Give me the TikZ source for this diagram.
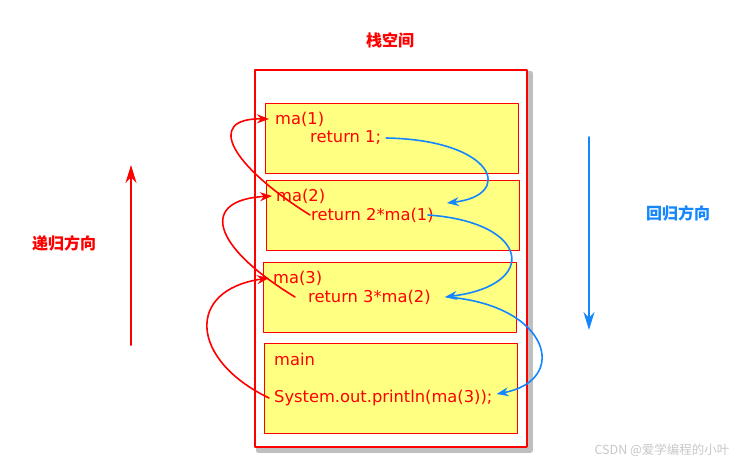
\documentclass[tikz,border=0pt]{standalone}
\usepackage{fontspec}
\setmainfont{DejaVu Sans}
\newfontfamily\cjk{Noto Sans CJK SC}
\usetikzlibrary{arrows.meta}
\definecolor{stackred}{RGB}{255,0,0}
\definecolor{backblue}{RGB}{20,135,255}
\definecolor{frameyellow}{RGB}{255,255,130}
\tikzset{
  frame/.style={draw=stackred,fill=frameyellow,line width=0.8pt,minimum width=253pt,minimum height=70pt,inner sep=0pt},
  code/.style={anchor=west,inner sep=1pt,text=stackred,font=\fontsize{16.3}{18}\selectfont},
  recur/.style={draw=stackred,line width=1.6pt,-{Stealth[length=12pt,width=9pt]}},
  back/.style={draw=backblue,line width=1.6pt,-{Stealth[length=12pt,width=9pt]}},
  caption/.style={font=\cjk\bfseries\fontsize{16}{18}\selectfont}
}
\begin{document}
\begin{tikzpicture}[x=1pt,y=-1pt,line cap=round,line join=round]
  \useasboundingbox (0,0) rectangle (743,463);
  \draw[black!25,line width=5pt] (258,73) rectangle (530,450);
  \draw[stackred,line width=2.5pt,fill=white] (255,70) rectangle (527,447);
  \node[frame] (f1) at (391.5,138) {};
  \node[frame] (f2) at (392.5,215.5) {};
  \node[frame] (f3) at (389.5,297.5) {};
  \node[frame,minimum height=90pt] (f4) at (390.5,388) {};
  \node[code] (ma1) at (274,119) {ma(1)};
  \node[code] (ret1) at (309,138) {return 1;};
  \node[code] (ma2) at (275,196) {ma(2)};
  \node[code] (ret2) at (310,215) {return 2*ma(1)};
  \node[code] (ma3) at (272,278) {ma(3)};
  \node[code] (ret3) at (307,297) {return 3*ma(2)};
  \node[code] (mn) at (273,359) {main};
  \node[code] (call) at (273,398) {System.out.println(ma(3));};
  \draw[recur] (ret2.west) .. controls (230,165) and (205,118) .. ([xshift=-5pt]ma1.west);
  \draw[recur] ([xshift=-12pt]ret3.west) .. controls (210,245) and (200,200) .. ([xshift=-3pt]ma2.west);
  \draw[recur] ([xshift=-4pt]call.west) .. controls (190,360) and (185,290) .. ([xshift=-3pt]ma3.west);
  \draw[back] ([xshift=4pt]ret1.east) .. controls (495,140) and (515,195) .. ([xshift=12pt,yshift=12pt]ret2.east);
  \draw[back] ([xshift=-7pt]ret2.east) .. controls (530,222) and (540,285) .. ([xshift=13pt]ret3.east);
  \draw[back] ([xshift=15pt]ret3.east) .. controls (550,305) and (570,380) .. ([xshift=3pt,yshift=4pt]call.east);
  \node[caption,text=stackred] (title) at (390,40) {栈空间};
  \coordinate (up0) at (131,345); \coordinate (up1) at (131,165);
  \coordinate (dn0) at (589,137); \coordinate (dn1) at (589,330);
  \draw[recur,line width=2pt,-{Stealth[length=18pt,width=11pt]}] (up0) -- (up1);
  \draw[back,line width=2pt,-{Stealth[length=18pt,width=11pt]}] (dn0) -- (dn1);
  \node[caption,text=stackred] (rdir) at (64,243) {递归方向};
  \node[caption,text=backblue] (bdir) at (678,213) {回归方向};
  \node[text=black!22,font=\cjk\fontsize{12.5}{14}\selectfont] (mark) at (662,450) {CSDN @爱学编程的小叶};
\end{tikzpicture}
\end{document}
